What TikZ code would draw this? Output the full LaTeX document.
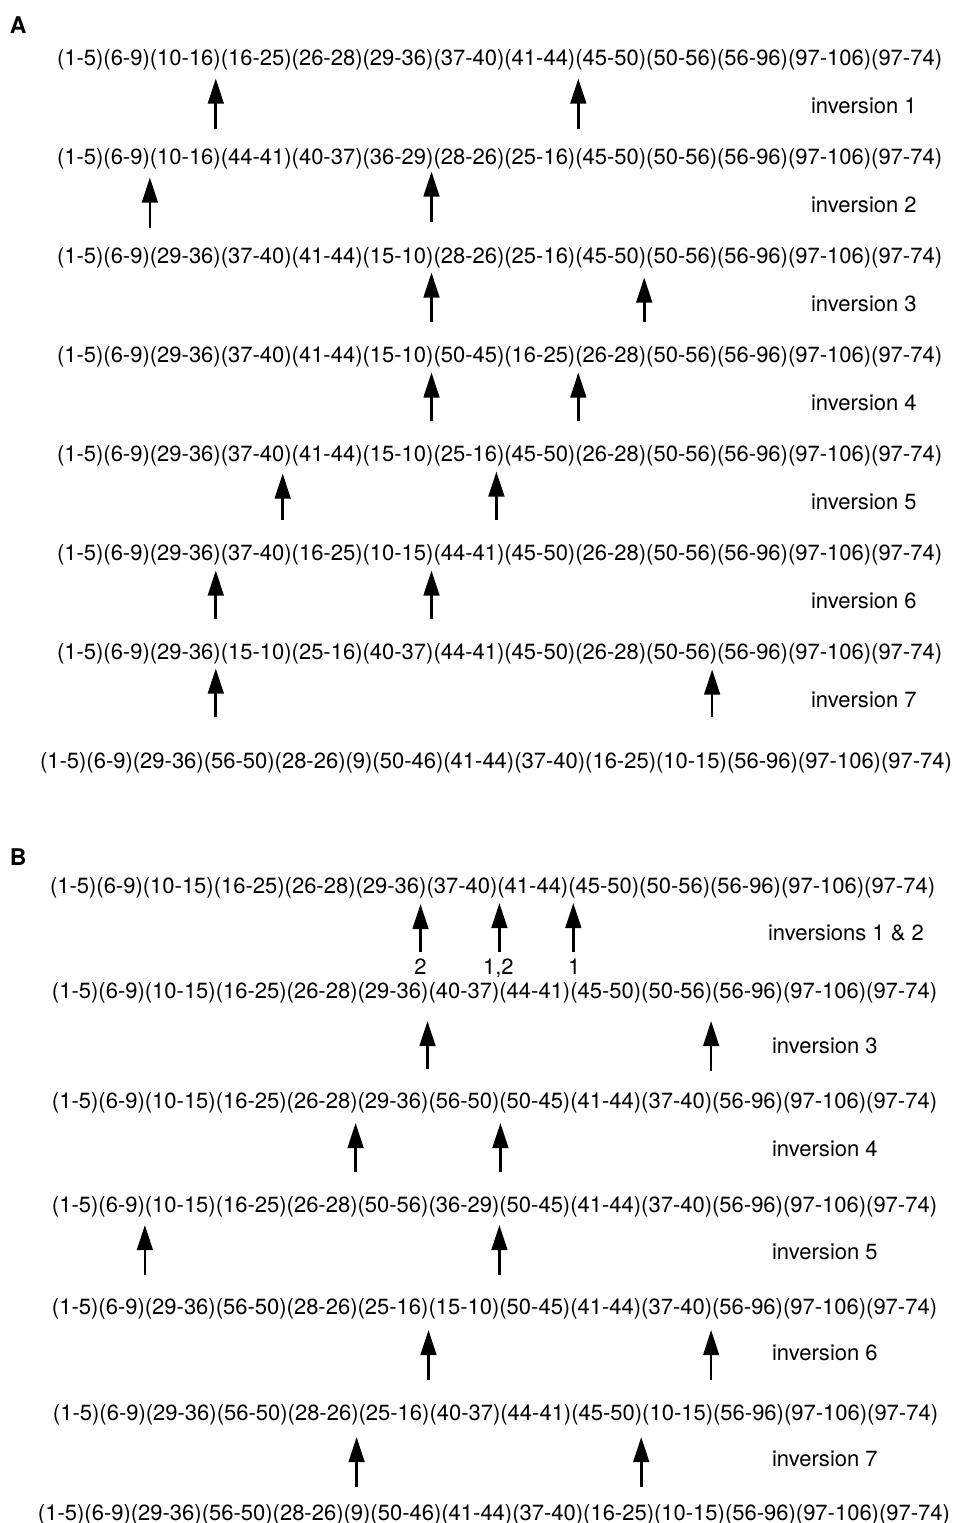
\documentclass[tikz,border=0pt]{standalone}
\usepackage{fontspec}
\setmainfont{TeX Gyre Heros}
\usetikzlibrary{arrows.meta,calc}
\tikzset{
  grp/.style={inner sep=0pt, outer sep=0pt, anchor=base west, font=\fontsize{11}{13}\selectfont},
  lbl/.style={inner sep=0pt, outer sep=0pt, anchor=base west, font=\fontsize{11}{13}\selectfont},
  num/.style={inner sep=0pt, outer sep=0pt, anchor=base, font=\fontsize{11}{13}\selectfont},
  panel/.style={inner sep=0pt, outer sep=0pt, anchor=base west, font=\fontsize{11.5}{13}\selectfont\bfseries},
  arr/.style={line width=1.3pt, -{Triangle[length=12.5pt,width=7.8pt]}},
}
\newcommand\seqrow[4]{%
  \foreach[count=\i] \g in {#4}{%
    \ifnum\i=1
      \node[grp] (#1-\i) at (#2,#3) {(\g)};
    \else
      \pgfmathtruncatemacro\prv{\i-1}%
      \node[grp] (#1-\i) at (#1-\prv.base east) {(\g)};
    \fi
  }}
% row, group, tip offset, tail offset, x offset
\newcommand\uparr[5]{%
  \draw[arr] ($(#1-#2.base east)+(#5,#4)$) -- ($(#1-#2.base east)+(#5,#3)$);}
\begin{document}
\begin{tikzpicture}[x=0.5pt,y=-0.5pt]
\fill[white] (0,0) rectangle (953,1523);
\useasboundingbox (0,0) rectangle (953,1523);

% ---------------- Panel A ----------------
\node[panel] (pA) at (10,33) {A};
\seqrow{A1}{57}{65.5}{1-5,6-9,10-16,16-25,26-28,29-36,37-40,41-44,45-50,50-56,56-96,97-106,97-74}
\seqrow{A2}{57}{164.5}{1-5,6-9,10-16,44-41,40-37,36-29,28-26,25-16,45-50,50-56,56-96,97-106,97-74}
\seqrow{A3}{57}{263.5}{1-5,6-9,29-36,37-40,41-44,15-10,28-26,25-16,45-50,50-56,56-96,97-106,97-74}
\seqrow{A4}{57}{362.5}{1-5,6-9,29-36,37-40,41-44,15-10,50-45,16-25,26-28,50-56,56-96,97-106,97-74}
\seqrow{A5}{57}{461.5}{1-5,6-9,29-36,37-40,41-44,15-10,25-16,45-50,26-28,50-56,56-96,97-106,97-74}
\seqrow{A6}{57}{560.5}{1-5,6-9,29-36,37-40,16-25,10-15,44-41,45-50,26-28,50-56,56-96,97-106,97-74}
\seqrow{A7}{57}{659.5}{1-5,6-9,29-36,15-10,25-16,40-37,44-41,45-50,26-28,50-56,56-96,97-106,97-74}
\seqrow{A8}{40}{768}{1-5,6-9,29-36,56-50,28-26,9,50-46,41-44,37-40,16-25,10-15,56-96,97-106,97-74}

\uparr{A1}{3}{13}{63}{-5}
\uparr{A1}{8}{13}{63}{3}
\uparr{A2}{2}{13}{63}{0}
\uparr{A2}{6}{7}{57}{-2}
\uparr{A3}{6}{9}{58}{-2}
\uparr{A3}{9}{14}{58}{-2}
\uparr{A4}{6}{10}{58}{-2}
\uparr{A4}{8}{10}{58}{3}
\uparr{A5}{4}{12}{58}{-9}
\uparr{A5}{7}{10}{58}{-8}
\uparr{A6}{3}{10}{58}{-5}
\uparr{A6}{6}{10}{58}{-2}
\uparr{A7}{3}{9}{57}{-5}
\uparr{A7}{10}{10}{57}{-5}

\node[lbl] (iA1) at (811,113) {inversion 1};
\node[lbl] (iA2) at (811,212) {inversion 2};
\node[lbl] (iA3) at (811,311) {inversion 3};
\node[lbl] (iA4) at (811,410) {inversion 4};
\node[lbl] (iA5) at (811,509) {inversion 5};
\node[lbl] (iA6) at (811,608) {inversion 6};
\node[lbl] (iA7) at (811,707) {inversion 7};

% ---------------- Panel B ----------------
\node[panel] (pB) at (10,865) {B};
\seqrow{B1}{50}{893}{1-5,6-9,10-15,16-25,26-28,29-36,37-40,41-44,45-50,50-56,56-96,97-106,97-74}
\seqrow{B2}{52}{998}{1-5,6-9,10-15,16-25,26-28,29-36,40-37,44-41,45-50,50-56,56-96,97-106,97-74}
\seqrow{B3}{52}{1108}{1-5,6-9,10-15,16-25,26-28,29-36,56-50,50-45,41-44,37-40,56-96,97-106,97-74}
\seqrow{B4}{52}{1212}{1-5,6-9,10-15,16-25,26-28,50-56,36-29,50-45,41-44,37-40,56-96,97-106,97-74}
\seqrow{B5}{52}{1314}{1-5,6-9,29-36,56-50,28-26,25-16,15-10,50-45,41-44,37-40,56-96,97-106,97-74}
\seqrow{B6}{53}{1420}{1-5,6-9,29-36,56-50,28-26,25-16,40-37,44-41,45-50,10-15,56-96,97-106,97-74}
\seqrow{B7}{38}{1520}{1-5,6-9,29-36,56-50,28-26,9,50-46,41-44,37-40,16-25,10-15,56-96,97-106,97-74}

\uparr{B1}{6}{11}{59}{-6}
\uparr{B1}{7}{10}{59}{2}
\uparr{B1}{8}{10}{59}{5}
\node[num] (n2) at ($(B1-6.base east)+(-6,81)$) {2};
\node[num] (n12) at ($(B1-7.base east)+(1,81)$) {1,2};
\node[num] (n1) at ($(B1-8.base east)+(6,81)$) {1};
\uparr{B2}{6}{23}{71}{-1}
\uparr{B2}{10}{23}{73}{-1}
\uparr{B3}{5}{15}{64}{-2}
\uparr{B3}{7}{15}{64}{1}
\uparr{B4}{2}{13}{63}{0}
\uparr{B4}{7}{13}{63}{0}
\uparr{B5}{6}{16}{66}{0}
\uparr{B5}{10}{16}{66}{-1}
\uparr{B6}{5}{17}{67}{-2}
\uparr{B6}{9}{17}{67}{-1}

\node[lbl] (iB12) at (768,940) {inversions 1 \& 2};
\node[lbl] (iB3) at (772,1053) {inversion 3};
\node[lbl] (iB4) at (772,1156) {inversion 4};
\node[lbl] (iB5) at (772,1259) {inversion 5};
\node[lbl] (iB6) at (772,1360) {inversion 6};
\node[lbl] (iB7) at (772,1466) {inversion 7};
\end{tikzpicture}
\end{document}
